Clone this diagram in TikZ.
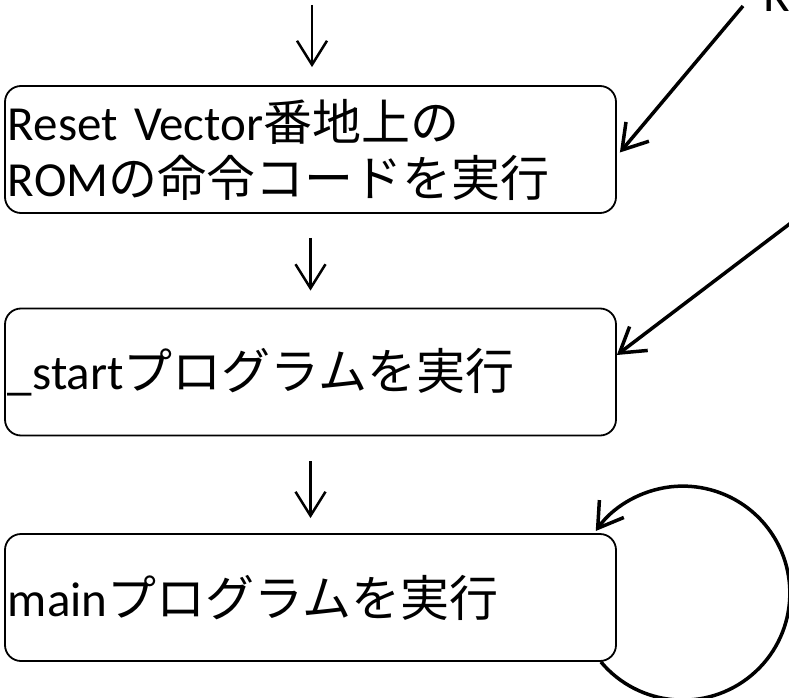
\documentclass[tikz,border=0pt]{standalone}
\usepackage{fontspec}
\setmainfont{Carlito}
\newfontfamily\cjk{Noto Sans CJK JP}
\usetikzlibrary{arrows.meta}
\begin{document}
\begin{tikzpicture}[x=1pt,y=-1pt,
  box/.style={draw, line width=1.8pt, rounded corners=16pt, minimum width=611pt,
    minimum height=127pt, text width=605pt, align=left, inner xsep=3pt, inner ysep=0pt,
    font=\fontsize{49}{56}\selectfont},
  downarr/.style={line width=2.5pt, -{Straight Barb[length=24pt,width=30pt,line width=2.5pt]}},
  diagarr/.style={line width=3.5pt, -{Straight Barb[length=24pt,width=30pt,line width=3.5pt]}}
]
\useasboundingbox (0,0) rectangle (789,698);
\node[box] (b1) at (310.5,149.5) {Reset Vector{\cjk 番地上の}\\ROM{\cjk の命令コードを実行}};
\node[box] (b2) at (310.5,372) {\_start{\cjk プログラムを実行}};
\node[box] (b3) at (310.5,597.5) {main{\cjk プログラムを実行}};
\coordinate (top) at (312,5);
\coordinate (d1) at (743,6);
\coordinate (d2) at (800,216);
\node[anchor=base west, inner sep=0pt, font=\fontsize{49}{56}\selectfont] (rlabel) at (763,12) {R};
\draw[downarr, shorten >=18pt] (top) -- (top |- b1.north);
\draw[downarr, shorten <=24pt, shorten >=17pt] (b1.south) -- (b2.north);
\draw[downarr, shorten <=25pt, shorten >=15pt] (b2.south) -- (b3.north);
\draw[diagarr] (d1) -- ([xshift=3pt,yshift=-3pt]b1.east);
\draw[diagarr] (d2) -- ([yshift=17pt]b2.east);
\draw[diagarr] ([xshift=-16pt]b3.south east) arc[start angle=140, end angle=-144.5, radius=107];
\end{tikzpicture}
\end{document}
